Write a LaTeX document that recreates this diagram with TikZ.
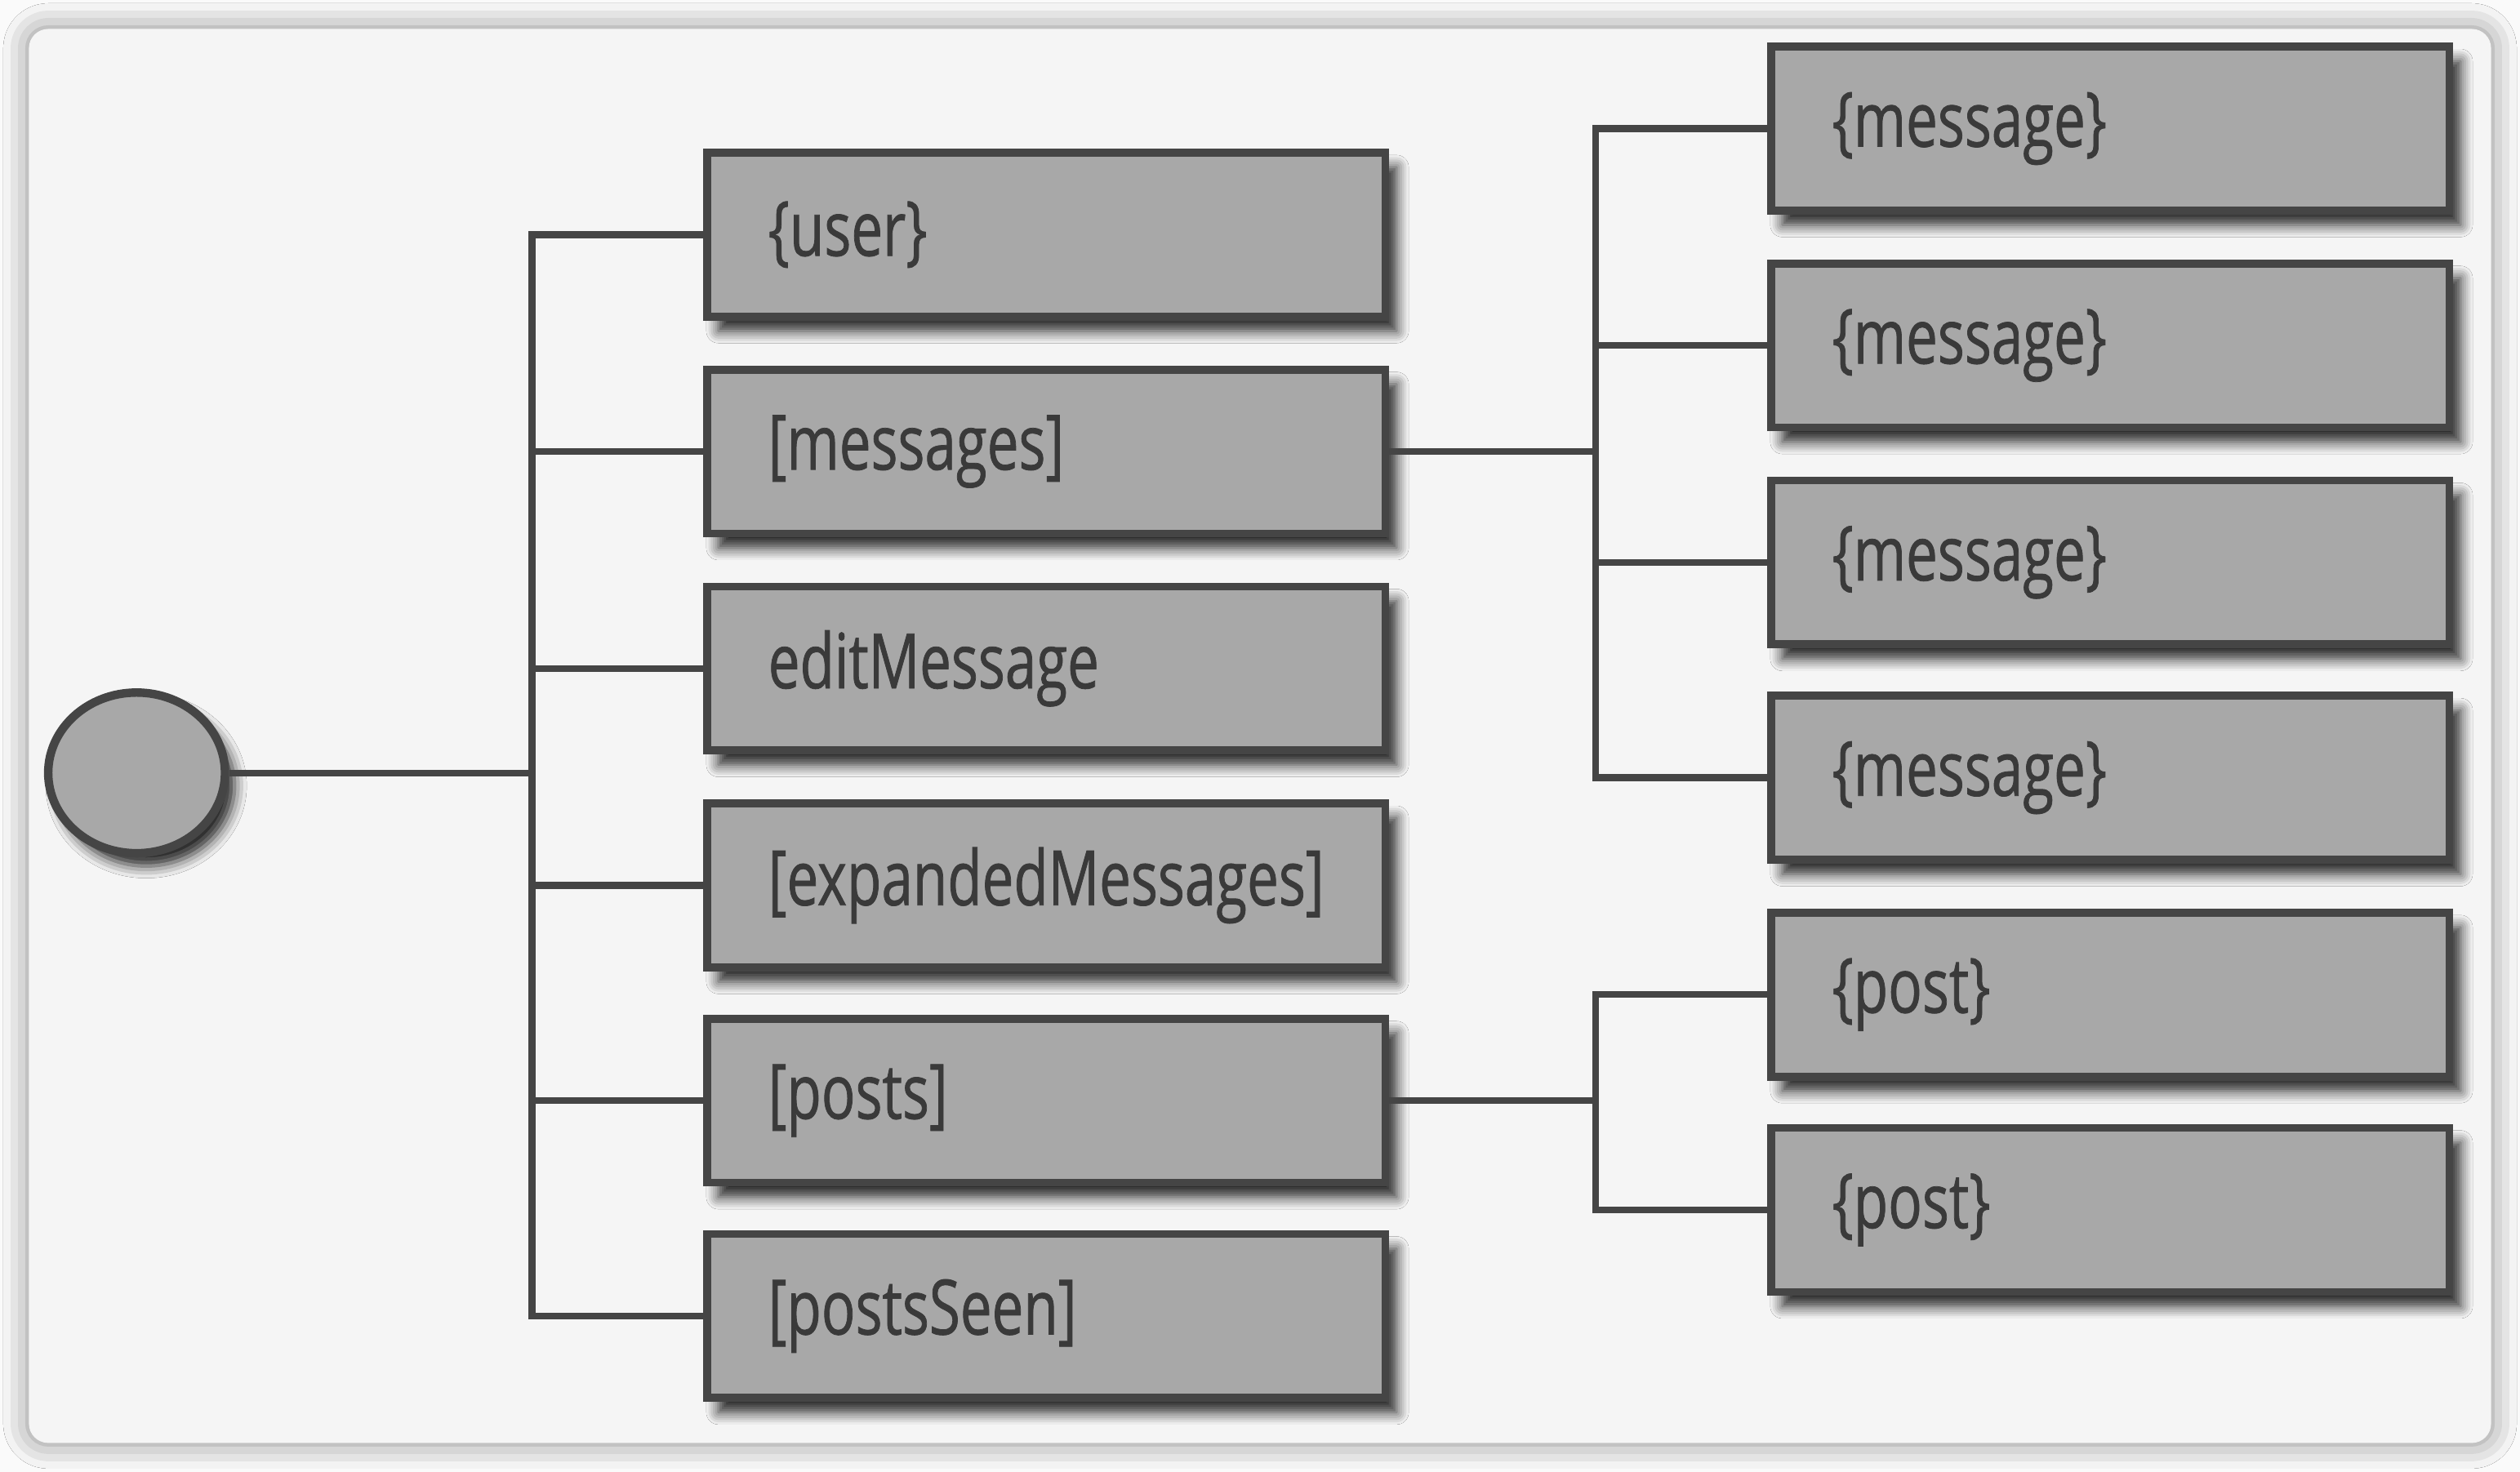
\documentclass[tikz,border=0pt]{standalone}
\usepackage{fontspec}
\setmainfont{Open Sans}[FakeStretch=0.74,FakeBold=0.8]
\usetikzlibrary{shapes.geometric,shadows.blur}
\definecolor{pagebg}{HTML}{FAFAFA}
\definecolor{cardbg}{HTML}{F5F5F5}
\definecolor{boxfill}{HTML}{A8A8A8}
\definecolor{edge}{HTML}{454545}
\definecolor{ink}{HTML}{3A3A3A}

\begin{document}
\begin{tikzpicture}[x=0.1mm,y=-0.1mm,
    field/.style={draw=edge,line width=1.4pt,fill=boxfill,text=ink,
      minimum height=10.2mm,text width=34.6mm,inner xsep=3.8mm,align=left,
      font=\fontsize{13.5}{15}\selectfont,
      blur shadow={shadow xshift=0.7mm,shadow yshift=-0.9mm,shadow blur steps=6,shadow opacity=85}},
    link/.style={draw=edge,line width=1.2pt}]
  % page and card
  \fill[pagebg] (0,0) rectangle (1568,916);
  \useasboundingbox (0,0) rectangle (1568,916);
  \fill[cardbg,rounded corners=1.2mm,
    blur shadow={shadow xshift=0mm,shadow yshift=0mm,shadow blur radius=1.6mm,shadow opacity=45}]
    (18,18) rectangle (1550,898);

  % root
  \node[draw=edge,line width=1.5pt,fill=boxfill,ellipse,minimum width=11mm,minimum height=10mm,
    blur shadow={shadow xshift=0.6mm,shadow yshift=-0.8mm,shadow opacity=85}] (root) at (85,481) {};

  % first level
  \node[field] (user) at (651,146) {\{user\}};
  \node[field] (messages) at (651,281) {[messages]};
  \node[field] (edit) at (651,416) {editMessage};
  \node[field] (expanded) at (651,551) {[expandedMessages]};
  \node[field] (posts) at (651,685) {[posts]};
  \node[field] (seen) at (651,819) {[postsSeen]};

  % second level
  \node[field] (msg1) at (1313,80) {\{message\}};
  \node[field] (msg2) at (1313,215) {\{message\}};
  \node[field] (msg3) at (1313,350) {\{message\}};
  \node[field] (msg4) at (1313,484) {\{message\}};
  \node[field] (post1) at (1313,619) {\{post\}};
  \node[field] (post2) at (1313,753) {\{post\}};

  \coordinate (rootfork) at (331,481);
  \coordinate (msgfork) at (993,281);
  \coordinate (postfork) at (993,685);

  \draw[link] (root.east) -- (rootfork);
  \foreach \n in {user,messages,edit,expanded,posts,seen}
    \draw[link] (rootfork) |- (\n.west);

  \draw[link] (messages.east) -- (msgfork);
  \foreach \n in {msg1,msg2,msg3,msg4}
    \draw[link] (msgfork) |- (\n.west);

  \draw[link] (posts.east) -- (postfork);
  \foreach \n in {post1,post2}
    \draw[link] (postfork) |- (\n.west);
\end{tikzpicture}
\end{document}
